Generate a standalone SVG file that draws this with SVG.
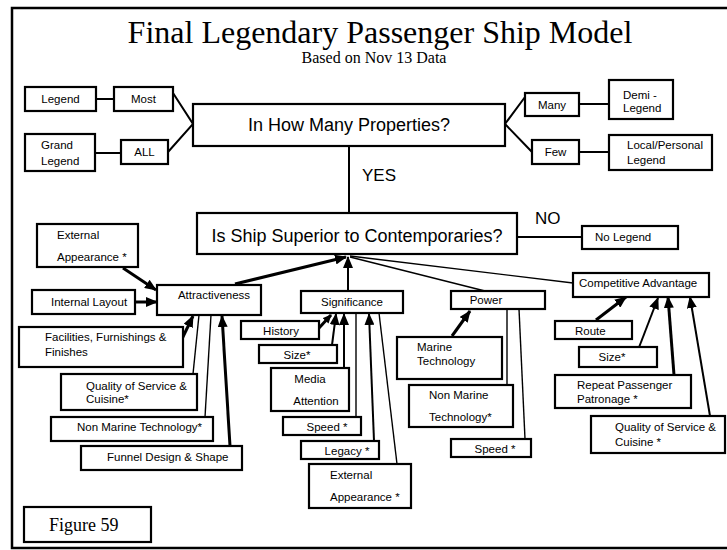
<svg xmlns="http://www.w3.org/2000/svg" width="727" height="550" viewBox="0 0 727 550">
<defs>
<marker id="ah" markerUnits="userSpaceOnUse" markerWidth="12" markerHeight="10" refX="11" refY="5" orient="auto"><path d="M0,0 L12,5 L0,10 Z" fill="#000"/></marker>
<marker id="ahs" markerUnits="userSpaceOnUse" markerWidth="9" markerHeight="8" refX="8" refY="4" orient="auto"><path d="M0,0 L9,4 L0,8 Z" fill="#000"/></marker>
<style>
.b{fill:#fff;stroke:#000;stroke-width:2.2}
.t{font-family:"Liberation Sans",Arial,sans-serif;font-size:11.5px;fill:#000}
.c{text-anchor:middle}
.big{font-family:"Liberation Sans",Arial,sans-serif;font-size:18px;fill:#000}
.lbl{font-family:"Liberation Sans",Arial,sans-serif;font-size:17px;fill:#000}
.serif{font-family:"Liberation Serif","Times New Roman",serif;fill:#000}
.l{stroke:#000;stroke-width:2;fill:none}
.th{stroke:#000;stroke-width:1.4;fill:none}
.tk{stroke:#000;stroke-width:3;fill:none}
</style>
</defs>
<rect width="727" height="550" fill="#fff"/>
<rect x="12" y="8" width="718" height="540" fill="none" stroke="#000" stroke-width="2.5"/>
<text class="serif" x="380" y="43" font-size="32" text-anchor="middle">Final Legendary Passenger Ship Model</text>
<text class="serif" x="374" y="63" font-size="16" text-anchor="middle">Based on Nov 13 Data</text>

<g id="connectors">
<line class="l" x1="96" y1="99" x2="114" y2="99"/>
<line class="l" x1="95" y1="153" x2="121" y2="153"/>
<polyline class="l" points="173,93 193,124 168,152"/>
<polyline class="l" points="525,97 505,124 532,152"/>
<line class="l" x1="579" y1="104" x2="609" y2="104"/>
<line class="l" x1="579" y1="152" x2="609" y2="152"/>
<line class="l" x1="349" y1="146" x2="349" y2="213"/>
<line class="l" x1="517" y1="237" x2="582" y2="237"/>
<line class="tk" x1="235" y1="284" x2="346" y2="257" marker-end="url(#ah)"/>
<line class="l" x1="348" y1="291" x2="348" y2="257" marker-end="url(#ah)"/>
<line class="th" x1="350" y1="257" x2="485" y2="291"/>
<line class="th" x1="350" y1="256" x2="573" y2="283"/>
<line class="tk" x1="123" y1="268" x2="156" y2="290" marker-end="url(#ah)"/>
<line class="tk" x1="135" y1="302" x2="157" y2="302" marker-end="url(#ah)"/>
<line class="tk" x1="180" y1="343" x2="193" y2="316" marker-end="url(#ah)"/>
<line class="th" x1="193" y1="374" x2="199" y2="315"/>
<line class="th" x1="205" y1="417" x2="211" y2="315"/>
<line class="tk" x1="230" y1="446" x2="222" y2="316" marker-end="url(#ah)"/>
<line class="tk" x1="319" y1="328" x2="331" y2="315" marker-end="url(#ahs)"/>
<line class="l" x1="332" y1="345" x2="336" y2="314" marker-end="url(#ah)"/>
<line class="l" x1="344" y1="368" x2="344" y2="314" marker-end="url(#ah)"/>
<line class="th" x1="356" y1="417" x2="356" y2="313"/>
<line class="l" x1="374" y1="441" x2="369" y2="314" marker-end="url(#ah)"/>
<line class="th" x1="397" y1="464" x2="379" y2="313"/>
<line class="tk" x1="452" y1="336" x2="470" y2="311" marker-end="url(#ah)"/>
<line class="th" x1="507" y1="385" x2="507" y2="309"/>
<line class="th" x1="525" y1="439" x2="519" y2="309"/>
<line class="tk" x1="596" y1="320" x2="626" y2="297" marker-end="url(#ah)"/>
<line class="l" x1="638" y1="350" x2="658" y2="298" marker-end="url(#ah)"/>
<line class="tk" x1="674" y1="375" x2="668" y2="297" marker-end="url(#ah)"/>
<line class="l" x1="710" y1="416" x2="690" y2="297" marker-end="url(#ah)"/>
</g>

<g id="legend"><rect class="b" x="25" y="87" width="71" height="24"/><text class="t c" x="60.5" y="103">Legend</text></g>
<g id="most"><rect class="b" x="114" y="87" width="59" height="24"/><text class="t c" x="143.5" y="103">Most</text></g>
<g id="grand-legend"><rect class="b" x="25" y="134" width="70" height="37"/><text class="t" x="41" y="149">Grand</text><text class="t" x="41" y="165">Legend</text></g>
<g id="all"><rect class="b" x="121" y="140" width="47" height="24"/><text class="t c" x="144.5" y="156">ALL</text></g>
<g id="how-many"><rect class="b" x="193" y="104" width="312" height="42"/><text class="big c" x="349" y="131">In How Many Properties?</text></g>
<g id="many"><rect class="b" x="525" y="93" width="54" height="23"/><text class="t c" x="552" y="108.5">Many</text></g>
<g id="demi-legend"><rect class="b" x="609" y="80" width="64" height="39"/><text class="t" x="623" y="99">Demi -</text><text class="t" x="623" y="112">Legend</text></g>
<g id="few"><rect class="b" x="532" y="140" width="47" height="24"/><text class="t c" x="555.5" y="156">Few</text></g>
<g id="local-legend"><rect class="b" x="609" y="135" width="103" height="35"/><text class="t" x="627" y="149">Local/Personal</text><text class="t" x="627" y="164">Legend</text></g>
<text id="yes" class="lbl" x="362" y="181">YES</text>
<g id="superior"><rect class="b" x="197" y="213" width="320" height="41"/><text class="big c" x="357" y="242">Is Ship Superior to Contemporaries?</text></g>
<text id="no" class="lbl" x="535" y="224">NO</text>
<g id="no-legend"><rect class="b" x="582" y="226" width="96" height="23"/><text class="t" x="595" y="241">No Legend</text></g>

<g id="ext-app-a"><rect class="b" x="37" y="224" width="101" height="43"/><text class="t" x="57" y="239">External</text><text class="t" x="57" y="261">Appearance *</text></g>
<g id="attractiveness"><rect class="b" x="157" y="285" width="104" height="30"/><text class="t c" x="214" y="299">Attractiveness</text></g>
<g id="internal-layout"><rect class="b" x="32" y="290" width="103" height="24"/><text class="t" x="51" y="306">Internal Layout</text></g>
<g id="facilities"><rect class="b" x="19" y="327" width="164" height="40"/><text class="t" x="45" y="341">Facilities, Furnishings &amp;</text><text class="t" x="45" y="356">Finishes</text></g>
<g id="quality-a"><rect class="b" x="61" y="374" width="136" height="36"/><text class="t" x="86" y="390">Quality of Service &amp;</text><text class="t" x="86" y="403">Cuisine*</text></g>
<g id="non-marine-a"><rect class="b" x="51" y="417" width="162" height="24"/><text class="t" x="77" y="431">Non Marine Technology*</text></g>
<g id="funnel"><rect class="b" x="81" y="446" width="161" height="24"/><text class="t" x="107" y="461">Funnel Design &amp; Shape</text></g>
<g id="figure"><rect class="b" x="24" y="507" width="127" height="35"/><text class="serif" x="49" y="531" font-size="18">Figure 59</text></g>

<g id="significance"><rect class="b" x="301" y="291" width="102" height="22"/><text class="t c" x="352" y="306">Significance</text></g>
<g id="history"><rect class="b" x="241" y="321" width="78" height="18"/><text class="t c" x="281" y="335">History</text></g>
<g id="size-s"><rect class="b" x="259" y="345" width="78" height="18"/><text class="t c" x="297" y="359">Size*</text></g>
<g id="media"><rect class="b" x="271" y="368" width="78" height="43"/><text class="t c" x="310" y="383">Media</text><text class="t c" x="316" y="405">Attention</text></g>
<g id="speed-s"><rect class="b" x="283" y="417" width="78" height="18"/><text class="t c" x="327" y="431">Speed *</text></g>
<g id="legacy"><rect class="b" x="301" y="441" width="78" height="18"/><text class="t c" x="347" y="455">Legacy *</text></g>
<g id="ext-app-s"><rect class="b" x="309" y="464" width="102" height="44"/><text class="t" x="330" y="479">External</text><text class="t" x="330" y="501">Appearance *</text></g>

<g id="power"><rect class="b" x="451" y="291" width="94" height="18"/><text class="t c" x="486" y="304">Power</text></g>
<g id="marine"><rect class="b" x="397" y="337" width="105" height="42"/><text class="t" x="417" y="351">Marine</text><text class="t" x="417" y="365">Technology</text></g>
<g id="non-marine-p"><rect class="b" x="409" y="385" width="104" height="42"/><text class="t" x="429" y="399">Non Marine</text><text class="t" x="429" y="421">Technology*</text></g>
<g id="speed-p"><rect class="b" x="451" y="439" width="80" height="18"/><text class="t c" x="495" y="453">Speed *</text></g>

<g id="competitive"><rect class="b" x="573" y="273" width="136" height="24"/><text class="t" x="579" y="287">Competitive Advantage</text></g>
<g id="route"><rect class="b" x="555" y="321" width="77" height="18"/><text class="t" x="575" y="335">Route</text></g>
<g id="size-c"><rect class="b" x="579" y="347" width="78" height="20"/><text class="t c" x="612" y="361">Size*</text></g>
<g id="repeat"><rect class="b" x="555" y="375" width="136" height="33"/><text class="t" x="577" y="389">Repeat Passenger</text><text class="t" x="577" y="403">Patronage *</text></g>
<g id="quality-c"><rect class="b" x="591" y="416" width="134" height="37"/><text class="t" x="615" y="431">Quality of Service &amp;</text><text class="t" x="615" y="446">Cuisine *</text></g>
</svg>
